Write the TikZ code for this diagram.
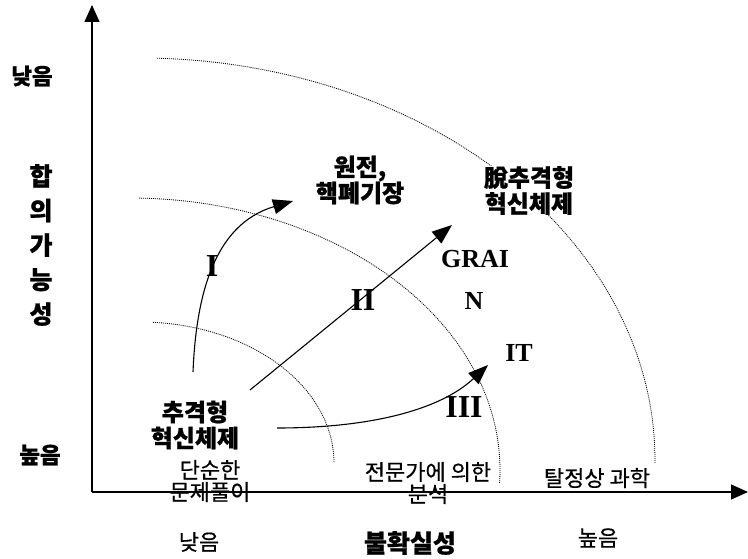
\documentclass[tikz,border=0pt]{standalone}
\usepackage{fontspec}
\setmainfont{Liberation Serif}
\newfontfamily\kr[BoldFeatures={FakeBold=0.8}]{Noto Sans CJK KR}
\newfontfamily\krm[FakeBold=0.5]{Noto Sans CJK KR}
\usetikzlibrary{arrows.meta}
\begin{document}
\begin{tikzpicture}[x=1pt,y=-1pt,
  axisline/.style={line width=1.2pt,-{Triangle[length=17pt,width=15pt]}},
  flow/.style={line width=1.1pt,-{Triangle[length=20pt,width=15pt]}},
  zone/.style={line width=0.8pt,dash pattern=on 1pt off 1pt},
  krb/.style={font=\kr\bfseries\fontsize{24}{26}\selectfont,align=center,inner sep=0pt},
  krbig/.style={font=\kr\bfseries\fontsize{25}{34.5}\selectfont,align=center,inner sep=0pt},
  krr/.style={font=\krm\fontsize{22}{22}\selectfont,align=center,inner sep=0pt},
  roman/.style={font=\bfseries\fontsize{32}{32}\selectfont,inner sep=0pt},
  tag/.style={font=\bfseries\fontsize{26}{26}\selectfont,inner sep=0pt}]
\useasboundingbox (0,0) rectangle (748,559);
\fill[white] (0,0) rectangle (748,559);

% zones (dotted arcs)
\draw[zone] plot[domain=86.2:0,samples=90] ({140+194*cos(\x)},{463-141*sin(\x)});
\draw[zone] plot[domain=88.6:-2.7,samples=120] ({130+370*cos(\x)},{470-272*sin(\x)});
\draw[zone] plot[domain=88.1:-0.4,samples=150] ({140+515*cos(\x)},{460-402*sin(\x)});

% axes
\coordinate (O) at (92,492);
\coordinate (ytip) at (92,5);
\coordinate (xtip) at (748,492);
\draw[axisline] (O) -- (ytip);
\draw[axisline] (O) -- (xtip);

% flows
\coordinate (s1) at (193,372);
\coordinate (e1) at (293,201);
\coordinate (s2) at (250,390);
\coordinate (e2) at (452,225);
\coordinate (s3) at (277,428);
\coordinate (e3) at (488,365);
\draw[flow] (s1) .. controls (196,300) and (212,225) .. (e1);
\draw[flow] (s2) -- (e2);
\draw[flow] (s3) .. controls (370,428) and (440,410) .. (e3);

% labels
\node[krb] (nuc) at (360,180) {원전,\\핵폐기장};
\node[krb,fill=white] (post) at (529,190.5) {脫추격형\\혁신체제};
\node[krb] (catch) at (195,425) {추격형\\혁신체제};
\node[krr] (simple) at (210,481) {단순한\\문제풀이};
\node[krr] (expert) at (428,483) {전문가에 의한\\분석};
\node[krr] (postnormal) at (597,478) {탈정상 과학};

\node[krb,font=\kr\bfseries\fontsize{22.5}{26}\selectfont] (ylow) at (32,76) {낮음};
\node[krbig] (ytitle) at (41,245) {합\\의\\가\\능\\성};
\node[krb,font=\kr\bfseries\fontsize{22.5}{26}\selectfont] (yhigh) at (40,455) {높음};
\node[krr] (xlow) at (199,542) {낮음};
\node[krbig] (xtitle) at (410,543) {불확실성};
\node[krr] (xhigh) at (598,538) {높음};

\node[roman] (r1) at (212,266) {I};
\node[roman] (r2) at (363,300) {II};
\node[roman] (r3) at (464,407) {III};
\node[tag] (grai) at (475,259) {GRAI};
\node[tag] (n) at (474,301) {N};
\node[tag] (it) at (519,353) {IT};
\end{tikzpicture}
\end{document}
